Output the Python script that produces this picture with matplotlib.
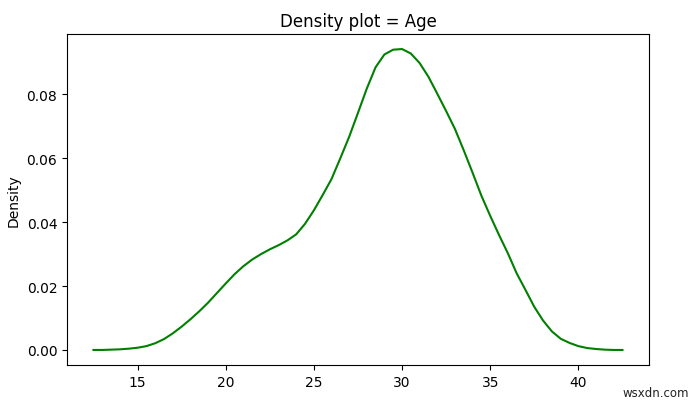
import matplotlib
matplotlib.use("Agg")
import matplotlib.pyplot as plt

age = [12.5, 13, 13.5, 14, 14.5, 15, 15.5, 16, 16.5, 17, 17.5, 18, 18.5, 19, 19.5,
       20, 20.5, 21, 21.5, 22, 22.5, 23, 23.5, 24, 24.5, 25, 25.5, 26, 26.5, 27,
       27.5, 28, 28.5, 29, 29.5, 30, 30.5, 31, 31.5, 32, 32.5, 33, 33.5, 34, 34.5,
       35, 35.5, 36, 36.5, 37, 37.5, 38, 38.5, 39, 39.5, 40, 40.5, 41, 41.5, 42, 42.5]
density = [0.0000, 0.0000, 0.0001, 0.0002, 0.0004, 0.0007, 0.0012, 0.0021, 0.0034,
           0.0052, 0.0073, 0.0096, 0.0121, 0.0148, 0.0178, 0.0208, 0.0237, 0.0262,
           0.0283, 0.0300, 0.0315, 0.0328, 0.0343, 0.0362, 0.0395, 0.0437, 0.0485,
           0.0535, 0.0600, 0.0667, 0.0742, 0.0818, 0.0885, 0.0925, 0.0940, 0.0942,
           0.0928, 0.0898, 0.0855, 0.0802, 0.0748, 0.0692, 0.0625, 0.0555, 0.0483,
           0.0420, 0.0360, 0.0303, 0.0240, 0.0188, 0.0135, 0.0092, 0.0058, 0.0035,
           0.0022, 0.0012, 0.0006, 0.0003, 0.0001, 0.0000, 0.0000]

fig = plt.figure(figsize=(7, 4.06), dpi=100)
ax = fig.add_axes([0.0957, 0.0985, 0.8313, 0.8153])
ax.plot(age, density, color="green", linewidth=1.5)
ax.set_title("Density plot = Age")
ax.set_ylabel("Density")
ax.set_xticks([15, 20, 25, 30, 35, 40])
ax.set_yticks([0.00, 0.02, 0.04, 0.06, 0.08])
fig.text(0.984, 0.015, "wsxdn.com", ha="right", va="bottom", fontsize=8.5, color="#222222")
fig.savefig("out.png", dpi=100)
